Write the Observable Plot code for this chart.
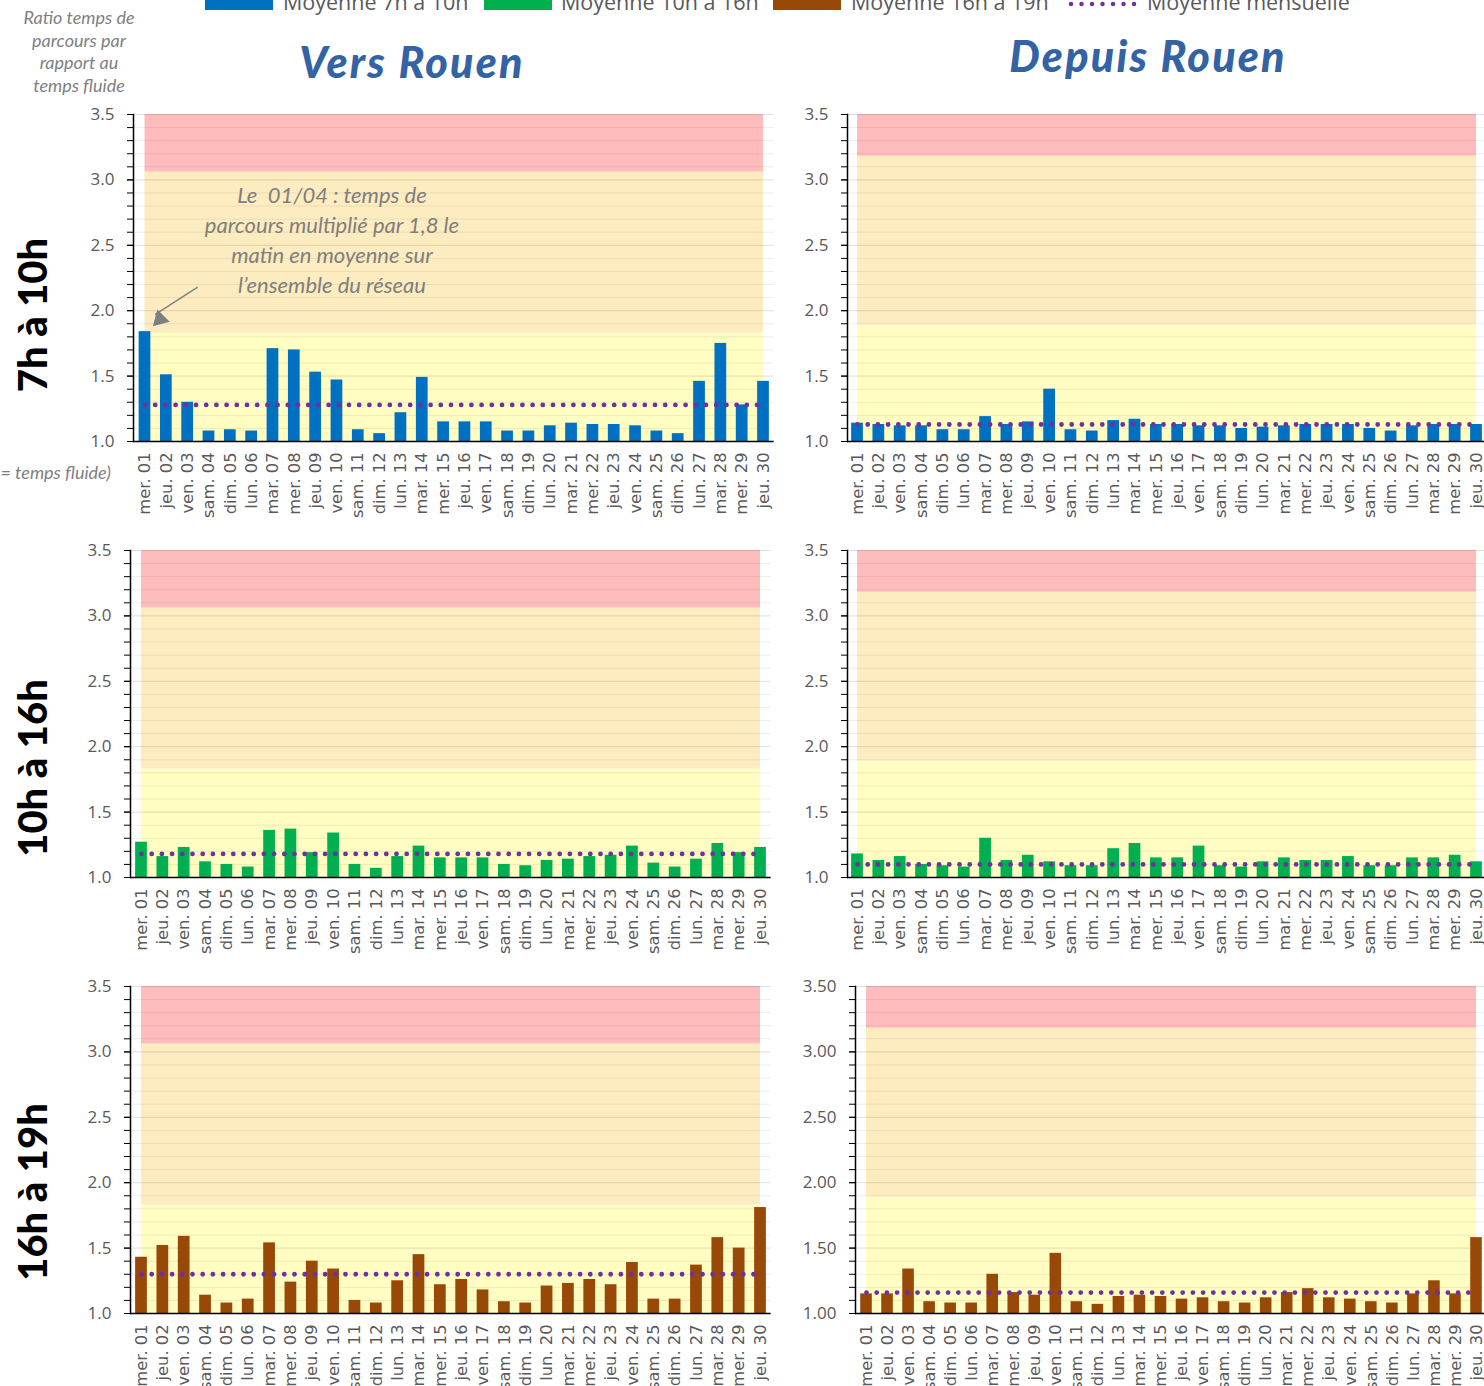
<!DOCTYPE html>
<html>
<head>
<meta charset="utf-8">
<script src="https://cdn.jsdelivr.net/npm/d3@7"></script>
<script src="https://cdn.jsdelivr.net/npm/@observablehq/plot@0.6"></script>
<style>
  html, body { margin: 0; padding: 0; background: #fff; }
  #root { position: relative; width: 1484px; height: 1386px; overflow: hidden; background: #fff; }
  .abs { position: absolute; white-space: nowrap; }
  .legtxt { font-family: "Open Sans", sans-serif; font-size: 21.5px; color: #595959; line-height: 21px; }
  .title { font-family: Lato, sans-serif; font-weight: 900; font-style: italic; font-size: 43px; letter-spacing: 2.2px; color: #3363a5; transform: translateX(-50%); }
  .row { font-family: Lato, sans-serif; font-weight: 900; font-size: 40px; color: #000; transform: translate(-50%, -50%) rotate(-90deg); }
  .ylab { font-family: Lato, sans-serif; font-style: italic; font-size: 18px; color: #7f7f7f; text-align: center; line-height: 22.5px; }
  svg.panel { position: absolute; overflow: visible; }
</style>
</head>
<body>
<div id="root"></div>
<script>
// ---------- data ----------
const days = ["mer. 01","jeu. 02","ven. 03","sam. 04","dim. 05","lun. 06","mar. 07","mer. 08","jeu. 09","ven. 10",
  "sam. 11","dim. 12","lun. 13","mar. 14","mer. 15","jeu. 16","ven. 17","sam. 18","dim. 19","lun. 20",
  "mar. 21","mer. 22","jeu. 23","ven. 24","sam. 25","dim. 26","lun. 27","mar. 28","mer. 29","jeu. 30"];

const versMatin   = [1.84,1.51,1.30,1.08,1.09,1.08,1.71,1.70,1.53,1.47,1.09,1.06,1.22,1.49,1.15,1.15,1.15,1.08,1.08,1.12,1.14,1.13,1.13,1.12,1.08,1.06,1.46,1.75,1.28,1.46];
const depuisMatin = [1.14,1.13,1.12,1.12,1.09,1.09,1.19,1.13,1.15,1.40,1.09,1.08,1.16,1.17,1.13,1.13,1.12,1.12,1.10,1.11,1.12,1.13,1.13,1.13,1.10,1.08,1.12,1.13,1.13,1.13];
const versJour    = [1.27,1.16,1.23,1.12,1.10,1.08,1.36,1.37,1.19,1.34,1.10,1.07,1.16,1.24,1.15,1.15,1.15,1.10,1.09,1.13,1.14,1.16,1.17,1.24,1.11,1.08,1.14,1.26,1.19,1.23];
const depuisJour  = [1.18,1.13,1.16,1.10,1.09,1.08,1.30,1.13,1.17,1.12,1.09,1.09,1.22,1.26,1.15,1.15,1.24,1.09,1.08,1.12,1.15,1.13,1.13,1.16,1.09,1.09,1.15,1.15,1.17,1.12];
const versSoir    = [1.43,1.52,1.59,1.14,1.08,1.11,1.54,1.24,1.40,1.34,1.10,1.08,1.25,1.45,1.22,1.26,1.18,1.09,1.08,1.21,1.23,1.26,1.22,1.39,1.11,1.11,1.37,1.58,1.50,1.81];
const depuisSoir  = [1.15,1.15,1.34,1.09,1.08,1.08,1.30,1.16,1.14,1.46,1.09,1.07,1.13,1.14,1.13,1.11,1.12,1.09,1.08,1.12,1.16,1.19,1.12,1.11,1.09,1.08,1.15,1.25,1.15,1.58];

const moyennes = {versMatin: 1.28, depuisMatin: 1.13, versJour: 1.18, depuisJour: 1.10, versSoir: 1.30, depuisSoir: 1.16};

const seuilsVers   = [1.83, 3.06];   // yellow / orange / red limits
const seuilsDepuis = [1.89, 3.18];

const majorTicks = [1.0, 1.5, 2.0, 2.5, 3.0, 3.5];
const minorTicks = d3.range(10, 36).map(v => v / 10);

const legendItems = ["Moyenne 7h à 10h", "Moyenne 10h à 16h", "Moyenne 16h à 19h", "Moyenne mensuelle"];
const colors = {matin: "#0070c0", jour: "#00b050", soir: "#984807", moyenne: "#7030a0"};
const zoneColors = ["#fffdc2", "#fdecc0", "#ffbcbc"];

const annotationLines = ["Le  01/04 : temps de", "parcours multiplié par 1,8 le", "matin en moyenne sur", "l’ensemble du réseau"];
const annotationArrow = [{x1: "ven. 03", y1: 2.18, x2: "mer. 01", y2: 1.97}];
const annotationHead  = [{x: "mer. 01", y: 1.935}];

// ---------- layout ----------
const root = document.getElementById("root");
function addDiv(cls, text, style) {
  const d = document.createElement("div");
  d.className = "abs " + cls;
  d.textContent = text;
  Object.assign(d.style, style);
  root.appendChild(d);
  return d;
}

// legend (partly cut at the top, as in the reference)
const legPos = [{sw: 205, tx: 283}, {sw: 484, tx: 561}, {sw: 773, tx: 851}, {sw: 1068, tx: 1147}];
legendItems.forEach((t, i) => {
  const p = legPos[i];
  if (i < 3) {
    const c = [colors.matin, colors.jour, colors.soir][i];
    addDiv("", "", {left: p.sw + "px", top: "-6px", width: "68px", height: "16px", background: c});
  } else {
    const s = document.createElementNS("http://www.w3.org/2000/svg", "svg");
    s.setAttribute("width", 72); s.setAttribute("height", 12);
    s.style.position = "absolute"; s.style.left = p.sw + "px"; s.style.top = "-1px";
    s.innerHTML = `<line x1="3" y1="5" x2="70" y2="5" stroke="${colors.moyenne}" stroke-width="4.5" stroke-linecap="round" stroke-dasharray="0 10.5"/>`;
    root.appendChild(s);
  }
  addDiv("legtxt", t, {left: p.tx + "px", top: "-9px"});
});

addDiv("ylab", "", {left: "79px", top: "6px", transform: "translateX(-50%)"}).innerHTML =
  "Ratio temps de<br>parcours par<br>rapport au<br>temps fluide";
addDiv("ylab", "(1 = temps fluide)", {right: (1484 - 111) + "px", top: "461px"});

addDiv("title", "Vers Rouen", {left: "412px", top: "36px"});
addDiv("title", "Depuis Rouen", {left: "1148px", top: "30px"});

addDiv("row", "7h à 10h", {left: "32px", top: "315px"});
addDiv("row", "10h à 16h", {left: "32px", top: "768px"});
addDiv("row", "16h à 19h", {left: "32px", top: "1192px"});

// ---------- panels ----------
function panel(cfg) {
  const step = (cfg.last - cfg.first) / 29;
  const mL = 62, mT = 12, mB = 100;
  const svgLeft = cfg.axisX - mL;
  const right = cfg.last + step / 2;
  const width = Math.ceil(right - svgLeft) + 2;
  const mR = width - (right - svgLeft);
  const ph = cfg.yBottom - cfg.yTop;
  const height = mT + ph + mB;
  const rows = days.map((d, i) => ({day: d, v: cfg.values[i]}));
  const [s1, s2] = cfg.seuils;
  const zones = [[1, s1], [s1, s2], [s2, 3.5]];
  const fmt = d3.format(cfg.fmt);

  const marks = [
    ...zones.map(([lo, hi], k) => Plot.areaY(days, {x: d => d, y1: () => lo, y2: () => hi, fill: zoneColors[k]})),
    Plot.ruleY(minorTicks.filter(v => !majorTicks.includes(v)), {stroke: "#000", strokeOpacity: 0.07}),
    Plot.ruleY(majorTicks.slice(1), {stroke: "#000", strokeOpacity: 0.13}),
    Plot.barY(rows, {x: "day", y1: 1, y2: "v", fill: cfg.color}),
    Plot.lineY(days, {x: d => d, y: () => cfg.avg, stroke: colors.moyenne, strokeWidth: 4.8,
      strokeLinecap: "round", strokeDasharray: "0 10.2"}),
    Plot.ruleY([1], {stroke: "#000", strokeWidth: 1.5}),
    Plot.frame({anchor: "left", stroke: "#000", strokeWidth: 1.5}),
    Plot.axisY(minorTicks, {tickSize: 6, tickFormat: () => "", stroke: "#000", label: null}),
    Plot.axisY(majorTicks, {tickSize: 6, tickPadding: 13, tickFormat: fmt, stroke: "#000", fill: "#595959",
      fontSize: 17, fontFamily: "Open Sans", label: null}),
    Plot.axisX({tickSize: 0, tickRotate: -90, tickPadding: 11, fontSize: 16.3, fontFamily: "DejaVu Sans",
      fill: "#595959", label: null})
  ];
  if (cfg.annotate) {
    marks.push(Plot.text([annotationLines.join("\n")], {x: () => "ven. 10", y: () => 2.55, dx: -5,
      text: d => d, fontSize: 22, fontFamily: "Lato", fontStyle: "italic", fill: "#7f7f7f", lineHeight: 1.36,
      lineAnchor: "middle", textAnchor: "middle", letterSpacing: 0.5}));
    marks.push(Plot.link(annotationArrow, {x1: "x1", y1: "y1", x2: "x2", y2: "y2",
      dx: 10, stroke: "#7f7f7f", strokeWidth: 1.3}));
    marks.push(Plot.dot(annotationHead, {x: "x", y: "y", dx: 15, symbol: "triangle", r: 6.5, rotate: 225,
      fill: "#7f7f7f", stroke: "none"}));
  }

  const chart = Plot.plot({
    width, height, marginLeft: mL, marginRight: mR, marginTop: mT, marginBottom: mB,
    style: {background: "transparent", overflow: "visible"},
    x: {type: "band", domain: days, range: [cfg.first - step / 2 - svgLeft, right - svgLeft],
        paddingInner: 0.45, paddingOuter: 0.225, round: false, axis: null},
    y: {domain: [1, 3.5], axis: null},
    marks
  });
  chart.classList.add("panel");
  chart.style.left = svgLeft + "px";
  chart.style.top = (cfg.yTop - mT) + "px";
  root.appendChild(chart);
}

panel({values: versMatin,   avg: moyennes.versMatin,   color: colors.matin, seuils: seuilsVers,   axisX: 133, first: 144.5, last: 763,  yTop: 114, yBottom: 441,  fmt: ".1f", annotate: true});
panel({values: depuisMatin, avg: moyennes.depuisMatin, color: colors.matin, seuils: seuilsDepuis, axisX: 847, first: 857,   last: 1476, yTop: 114, yBottom: 441,  fmt: ".1f"});
panel({values: versJour,    avg: moyennes.versJour,    color: colors.jour,  seuils: seuilsVers,   axisX: 130, first: 141,   last: 760,  yTop: 550, yBottom: 877,  fmt: ".1f"});
panel({values: depuisJour,  avg: moyennes.depuisJour,  color: colors.jour,  seuils: seuilsDepuis, axisX: 847, first: 857,   last: 1476, yTop: 550, yBottom: 877,  fmt: ".1f"});
panel({values: versSoir,    avg: moyennes.versSoir,    color: colors.soir,  seuils: seuilsVers,   axisX: 130, first: 141,   last: 760,  yTop: 986, yBottom: 1313, fmt: ".1f"});
panel({values: depuisSoir,  avg: moyennes.depuisSoir,  color: colors.soir,  seuils: seuilsDepuis, axisX: 855, first: 866,   last: 1476, yTop: 986, yBottom: 1313, fmt: ".2f"});
</script>
</body>
</html>
